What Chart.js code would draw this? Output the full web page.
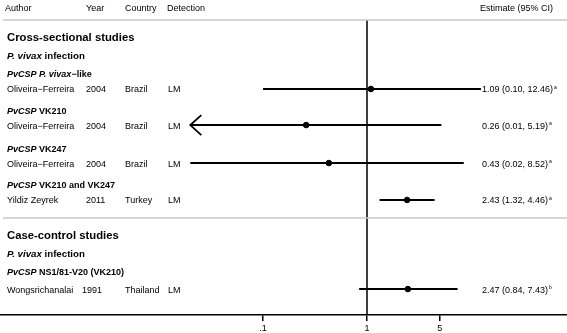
<!DOCTYPE html>
<html>
<head>
<meta charset="utf-8">
<script src="https://cdn.jsdelivr.net/npm/chart.js@4/dist/chart.umd.min.js"></script>
<style>
  html, body { margin: 0; padding: 0; background: #fff; }
  #wrap { width: 567px; height: 333px; position: relative; }
</style>
</head>
<body>
<div id="wrap"><canvas id="forest"></canvas></div>
<script>
// study data
const authors = ['Oliveira−Ferreira', 'Oliveira−Ferreira', 'Oliveira−Ferreira', 'Yildiz Zeyrek', 'Wongsrichanalai'];
const years = ['2004', '2004', '2004', '2011', '1991'];
const countries = ['Brazil', 'Brazil', 'Brazil', 'Turkey', 'Thailand'];
const detection = ['LM', 'LM', 'LM', 'LM', 'LM'];
const estimates = [1.09, 0.26, 0.43, 2.43, 2.47];
const lowerCI = [0.10, 0.01, 0.02, 1.32, 0.84];
const upperCI = [12.46, 5.19, 8.52, 4.46, 7.43];
const notes = ['a', 'a', 'a', 'a', 'b'];
const tickValues = [0.1, 1, 5];
const tickLabels = ['.1', '1', '5'];
const headers = ['Author', 'Year', 'Country', 'Detection', 'Estimate (95% CI)'];

// headings: segments of [text, italic]
const headings = [
  { seg: [['Cross-sectional studies', false]], kind: 'section' },
  { seg: [['P. vivax', true], [' infection', false]], kind: 'group' },
  { seg: [['PvCSP P. vivax', true], ['−like', false]], kind: 'sub' },
  { seg: [['PvCSP', true], [' VK210', false]], kind: 'sub' },
  { seg: [['PvCSP', true], [' VK247', false]], kind: 'sub' },
  { seg: [['PvCSP', true], [' VK210 and VK247', false]], kind: 'sub' },
  { seg: [['Case-control studies', false]], kind: 'section' },
  { seg: [['P. vivax', true], [' infection', false]], kind: 'group' },
  { seg: [['PvCSP', true], [' NS1/81-V20 (VK210)', false]], kind: 'sub' },
];

// layout (y in line units, 0 = top)
const headingRows = [2.0, 2.97, 3.99, 5.94, 8.01, 9.96, 12.68, 13.65, 14.68];
const studyRows = [4.80, 6.75, 8.80, 10.79, 15.6];
const headerRow = 0.38;
const dividerRows = [1.08, 11.76];
const yMax = 17;
const ciFloor = 0.02; // smallest value drawn, beyond that an arrow
const FONT = "'Liberation Sans', Arial, Helvetica, sans-serif";
const TEXT_NUDGE = 1; // canvas 'middle' sits a bit high for these fonts

// x scale: 1 sits at 367px, 104px per decade, area spans the whole width
const xMin = Math.pow(10, -367 / 104);
const xMax = Math.pow(10, (567 - 367) / 104);

const ciSets = estimates.map((e, i) => ({
  type: 'line',
  data: [
    { x: Math.max(lowerCI[i], ciFloor), y: studyRows[i] },
    { x: upperCI[i], y: studyRows[i] },
  ],
  borderColor: '#000',
  borderWidth: 2,
  pointRadius: 0,
  fill: false,
}));

const tablePlugin = {
  id: 'tableText',
  afterDraw(chart) {
    const ctx = chart.ctx;
    const xs = chart.scales.x;
    const ys = chart.scales.y;
    const area = chart.chartArea;
    ctx.save();
    ctx.textBaseline = 'middle';
    ctx.fillStyle = '#000';

    // dividers
    ctx.strokeStyle = '#c8c8c8';
    ctx.lineWidth = 1.5;
    dividerRows.forEach((r) => {
      const y = ys.getPixelForValue(r);
      ctx.beginPath();
      ctx.moveTo(3, y);
      ctx.lineTo(area.right, y);
      ctx.stroke();
    });

    // column headers
    ctx.font = '9px ' + FONT;
    const hy = ys.getPixelForValue(headerRow) + TEXT_NUDGE;
    const colX = [5, 86, 125, 167];
    headers.slice(0, 4).forEach((h, i) => ctx.fillText(h, colX[i], hy));
    ctx.textAlign = 'right';
    ctx.fillText(headers[4], 553, hy);
    ctx.textAlign = 'left';

    // headings
    headings.forEach((h, i) => {
      const y = ys.getPixelForValue(headingRows[i]) + TEXT_NUDGE;
      const size = h.kind === 'section' ? 11.3 : h.kind === 'group' ? 9.7 : 9;
      let x = 7;
      h.seg.forEach(([t, it]) => {
        ctx.font = (it ? 'italic ' : '') + 'bold ' + size + 'px ' + FONT;
        ctx.fillText(t, x, y);
        x += ctx.measureText(t).width;
      });
    });

    // study rows
    estimates.forEach((e, i) => {
      const yRow = ys.getPixelForValue(studyRows[i]);
      const y = yRow + TEXT_NUDGE;
      ctx.font = '9px ' + FONT;
      ctx.fillText(authors[i], 7, y);
      ctx.fillText(years[i], i === 4 ? 82 : 86, y);
      ctx.fillText(countries[i], 125, y);
      ctx.fillText(detection[i], 168, y);
      const label = e.toFixed(2) + ' (' + lowerCI[i].toFixed(2) + ', ' + upperCI[i].toFixed(2) + ')';
      ctx.fillText(label, 482, y);
      const w = ctx.measureText(label).width;
      ctx.font = '5px ' + FONT;
      ctx.fillText(notes[i], 482 + w + 1, y - 2);

      // arrow when the lower limit is off the plotted range
      if (lowerCI[i] < ciFloor) {
        const tx = xs.getPixelForValue(ciFloor);
        ctx.strokeStyle = '#000';
        ctx.lineWidth = 1.8;
        ctx.beginPath();
        ctx.moveTo(tx + 11, yRow - 10);
        ctx.lineTo(tx, yRow);
        ctx.lineTo(tx + 11, yRow + 10);
        ctx.stroke();
      }
    });
    ctx.restore();
  },
};

new Chart(document.getElementById('forest'), {
  type: 'scatter',
  data: {
    datasets: [
      {
        type: 'line',
        data: [{ x: 1, y: dividerRows[0] }, { x: 1, y: yMax }],
        borderColor: '#000',
        borderWidth: 1.5,
        pointRadius: 0,
      },
      ...ciSets,
      {
        data: estimates.map((e, i) => ({ x: e, y: studyRows[i] })),
        backgroundColor: '#000',
        borderColor: '#000',
        pointRadius: 2.8,
        pointHoverRadius: 2.8,
      },
    ],
  },
  options: {
    responsive: true,
    maintainAspectRatio: false,
    animation: false,
    layout: { padding: 0, autoPadding: false },
    plugins: {
      legend: { display: false },
      tooltip: { enabled: false },
    },
    scales: {
      x: {
        type: 'logarithmic',
        min: xMin,
        max: xMax,
        afterFit: (scale) => {
          scale.height = 18;
        },
        afterBuildTicks: (scale) => {
          scale.ticks = tickValues.map((v) => ({ value: v }));
        },
        ticks: {
          autoSkip: false,
          maxRotation: 0,
          padding: 3,
          color: '#000',
          font: { family: FONT, size: 9, lineHeight: 1 },
          callback: (v) => tickLabels[tickValues.indexOf(v)],
        },
        grid: {
          drawOnChartArea: false,
          drawTicks: true,
          tickLength: 6,
          color: '#000',
          lineWidth: 1.5,
        },
        border: { display: true, color: '#000', width: 1.5 },
      },
      y: {
        type: 'linear',
        display: false,
        reverse: true,
        min: 0,
        max: yMax,
      },
    },
  },
  plugins: [tablePlugin],
});
</script>
</body>
</html>
